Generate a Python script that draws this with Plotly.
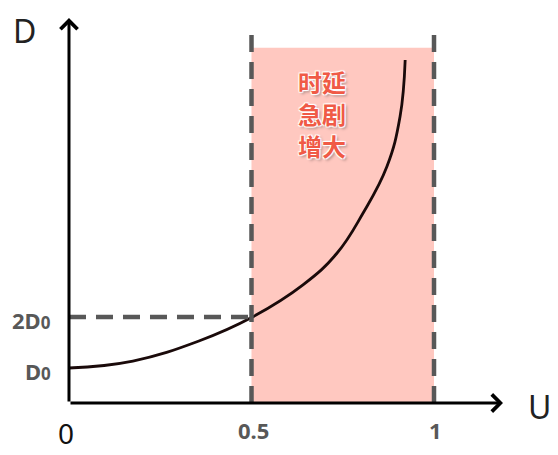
import plotly.graph_objects as go

# curve (U, D in units of D0)
u_vals = [0, 0.175, 0.356, 0.5, 0.641, 0.734, 0.805, 0.871, 0.907, 0.921]
d_vals = [1.0, 1.137, 1.53, 1.99, 2.63, 3.25, 4.03, 4.95, 5.93, 7.04]

u_ticks = [0, 0.5, 1]
u_tick_text = ["0", "0.5", "1"]
d_ticks = [1, 2]
d_tick_text = ["D<span style='font-size:17px'>0</span>", "2D<span style='font-size:17px'>0</span>"]

zone = [0.5, 1]       # high-delay region
zone_top = 7.28
dash_top = 7.57
label_lines = ["时延", "急剧", "增大"]

# whole page is the plotting area
u_min, u_max = -0.1671, 1.3397
d_min, d_max = -0.706, 8.059
# visible axis extents
ax_u0, ax_u1 = 0, 1.189
ax_d0, ax_d1 = 0.314, 7.863

gray = "#585858"
fig = go.Figure()

# pink region
fig.add_shape(type="rect", x0=zone[0], x1=zone[1], y0=ax_d0, y1=zone_top,
              fillcolor="rgb(255,200,192)", line_width=0, layer="below")
# dashed guides
for u in zone:
    fig.add_shape(type="line", x0=u, x1=u, y0=ax_d0, y1=dash_top,
                  line=dict(color=gray, width=4.5, dash="17px,10px"))
fig.add_shape(type="line", x0=0, x1=0.5, y0=2, y1=2,
              line=dict(color=gray, width=4.5, dash="17px,10px"))

fig.add_trace(go.Scatter(x=u_vals, y=d_vals, mode="lines",
                         line=dict(color="#1a0a0a", width=2.8, shape="spline", smoothing=1.2),
                         hoverinfo="skip"))

# axes with arrows
fig.add_annotation(x=ax_u1, y=ax_d0, ax=ax_u0, ay=ax_d0, xref="x", yref="y", axref="x", ayref="y",
                   text="", showarrow=True, arrowhead=4, arrowsize=1.1, arrowwidth=3, arrowcolor="black")
fig.add_annotation(x=ax_u0, y=ax_d1, ax=ax_u0, ay=ax_d0, xref="x", yref="y", axref="x", ayref="y",
                   text="", showarrow=True, arrowhead=4, arrowsize=1.1, arrowwidth=3, arrowcolor="black")

fig.add_annotation(x=-0.123, y=7.61, text="D", showarrow=False,
                   font=dict(size=32, color="#222", family="Noto Sans"))
fig.add_annotation(x=1.29, y=0.24, text="U", showarrow=False,
                   font=dict(size=32, color="#222", family="Noto Sans"))

for u, t in zip(u_ticks, u_tick_text):
    if u == 0:
        fig.add_annotation(x=-0.008, y=-0.28, text=t, showarrow=False,
                           font=dict(size=28, color="#111", family="Noto Sans"))
    else:
        fig.add_annotation(x=u + 0.005, y=-0.22, text=t, showarrow=False,
                           font=dict(size=22, color=gray, family="Noto Sans", weight="bold"))
for d, t in zip(d_ticks, d_tick_text):
    fig.add_annotation(x=-0.044, y=d - 0.05, text=t, showarrow=False, xanchor="right",
                       font=dict(size=22, color=gray, family="Noto Sans", weight="bold"))

shadow = ("1px 1px 1px #fff, -1px -1px 1px #fff, 1px -1px 1px #fff, -1px 1px 1px #fff, "
          "2px 2px 3px rgba(0,0,0,0.35)")
for i, line in enumerate(label_lines):
    fig.add_annotation(x=0.692, y=6.62 - 0.63 * i, text=line, showarrow=False, borderpad=0,
                       font=dict(size=24, color="#f05a46", family="Noto Sans CJK SC",
                                 weight="bold", shadow=shadow))

fig.update_xaxes(range=[u_min, u_max], visible=False)
fig.update_yaxes(range=[d_min, d_max], visible=False)
fig.update_layout(width=550, height=447, margin=dict(l=0, r=0, t=0, b=0),
                  plot_bgcolor="white", paper_bgcolor="white", showlegend=False)

fig.write_html("out.html")
